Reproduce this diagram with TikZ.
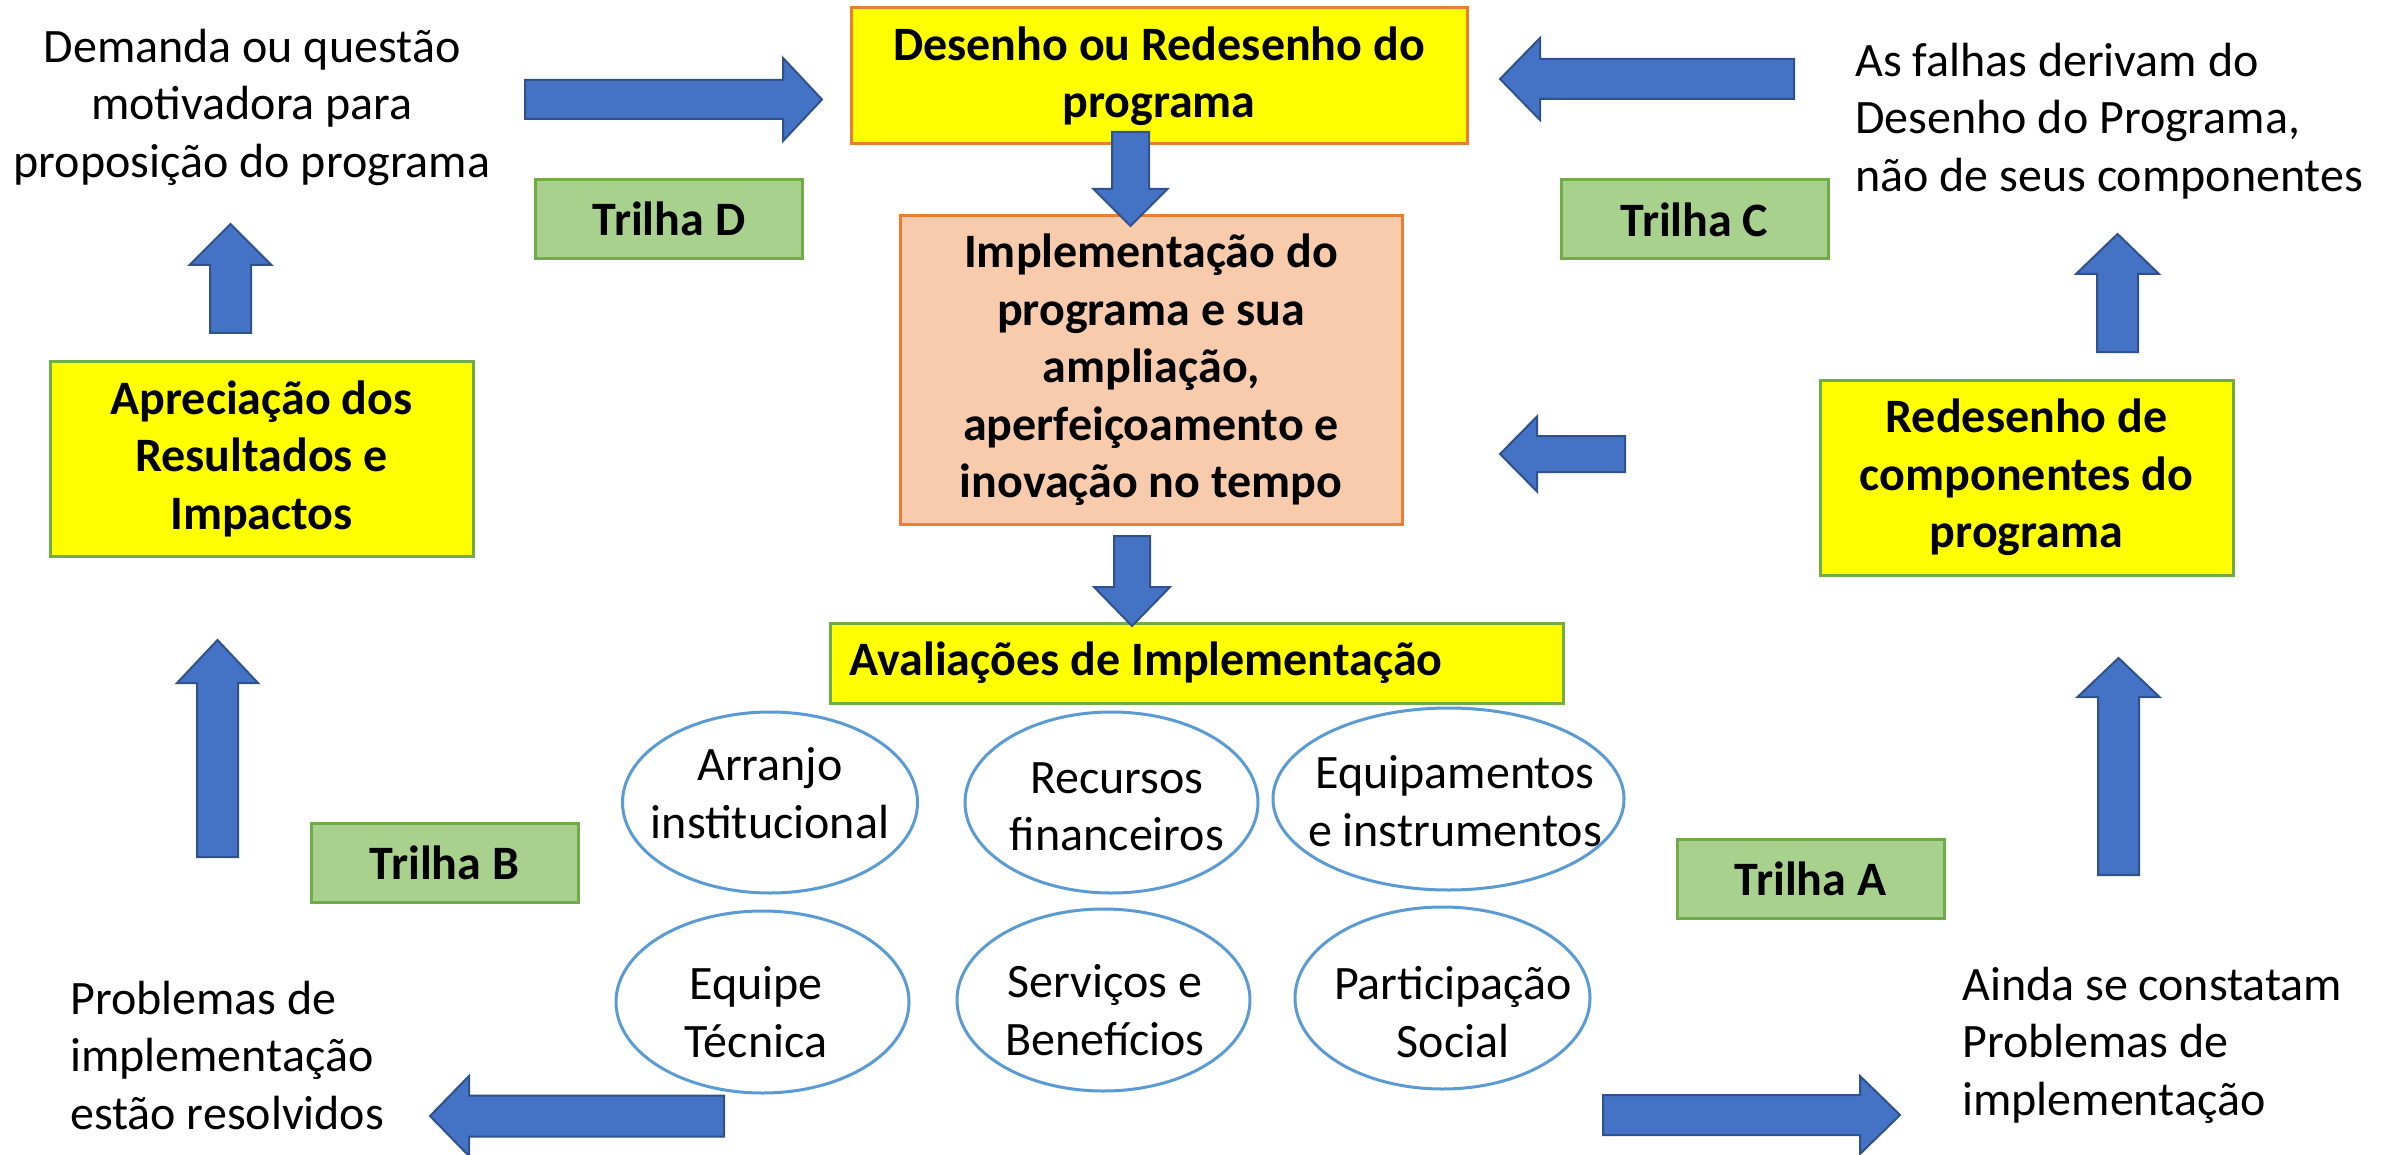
\documentclass[tikz,border=0pt]{standalone}
\usepackage{fontspec}
\setmainfont{Carlito}
\usetikzlibrary{shapes.geometric}
\definecolor{ylw}{HTML}{FFFF00}
\definecolor{orng}{HTML}{ED7D31}
\definecolor{grn}{HTML}{70AD47}
\definecolor{trfill}{HTML}{A9D18E}
\definecolor{pch}{HTML}{F8CBAD}
\definecolor{ellb}{HTML}{5B9BD5}
\definecolor{arrf}{HTML}{4472C4}
\definecolor{arrb}{HTML}{2F528F}
% tail x, tail y, angle, length, body half width, head half width, head length
\newcommand{\blockarr}[7]{%
  \draw[barr, shift={(#1,#2)}, rotate=#3] (0,-#5) -- (#4-#7,-#5) -- (#4-#7,-#6) -- (#4,0)
    -- (#4-#7,#6) -- (#4-#7,#5) -- (0,#5) -- cycle;}
\begin{document}
\begin{tikzpicture}[x=1pt,y=-1pt,
  every node/.style={font=\fontsize{48}{57.5}\selectfont, inner sep=0pt},
  ybox/.style={draw=grn, fill=ylw, line width=3pt, align=center,
    font=\fontsize{48}{57.5}\selectfont\bfseries},
  obox/.style={ybox, draw=orng},
  trilha/.style={draw=grn, fill=trfill, line width=3pt, minimum width=267pt,
    minimum height=79pt, font=\fontsize{48}{57.5}\selectfont\bfseries},
  ell/.style={ellipse, draw=ellb, line width=3pt, fill=white},
  txt/.style={align=center},
  barr/.style={fill=arrf, draw=arrb, line width=2pt, line join=miter}]
\useasboundingbox[fill=white] (0,0) rectangle (2389,1155);

% boxes
\node[obox, minimum width=616pt, minimum height=136pt] (desenho) at (1159,76)
  {Desenho ou Redesenho do\\programa};
\node[obox, fill=pch, minimum width=502pt, minimum height=308pt] (impl) at (1151,370)
  {Implementação do\\programa e sua\\ampliação,\\aperfeiçoamento e\\inovação no tempo};
\node[ybox, minimum width=423pt, minimum height=195pt] (apre) at (261.5,458.5)
  {Apreciação dos\\Resultados e\\Impactos};
\node[ybox, minimum width=413pt, minimum height=195pt] (redes) at (2026.5,477.5)
  {Redesenho de\\componentes do\\programa};
\node[ybox, minimum width=733pt, minimum height=80pt] (aval) at (1196.5,663) {};
\node[font=\fontsize{48}{57.5}\selectfont\bfseries, anchor=west] (avaltxt)
  at ([xshift=21pt]aval.west) {Avaliações de Implementação};

% trilhas
\node[trilha] (trD) at (669,219) {Trilha D};
\node[trilha] (trC) at (1694.5,219.5) {Trilha C};
\node[trilha] (trB) at (444.5,862.5) {Trilha B};
\node[trilha] (trA) at (1810.5,878.5) {Trilha A};

% ellipses
\node[ell, minimum width=295pt, minimum height=181pt] (e1) at (770,802.5) {};
\node[ell, minimum width=293pt, minimum height=181pt] (e2) at (1111.5,802.5) {};
\node[ell, minimum width=351pt, minimum height=182pt] (e3) at (1448.5,799) {};
\node[ell, minimum width=293pt, minimum height=182pt] (e4) at (762.5,1002) {};
\node[ell, minimum width=293pt, minimum height=182pt] (e5) at (1103.5,1000) {};
\node[ell, minimum width=295pt, minimum height=182pt] (e6) at (1442.5,998) {};
\node[txt] (t1) at (770,793) {Arranjo\\institucional};
\node[txt] (t2) at (1117,807) {Recursos\\financeiros};
\node[txt] (t3) at (1455,801) {Equipamentos\\e instrumentos};
\node[txt] (t4) at (756,1012) {Equipe\\Técnica};
\node[txt] (t5) at (1105,1010) {Serviços e\\Benefícios};
\node[txt] (t6) at (1453,1012) {Participação\\Social};

% free texts
\node[txt] (demanda) at (252,107) {Demanda ou questão\\motivadora para\\proposição do programa};
\node[align=left, anchor=west] (falhas) at (1855,121)
  {As falhas derivam do\\Desenho do Programa,\\não de seus componentes};
\node[align=left, anchor=west] (resolv) at (70,1055)
  {Problemas de\\implementação\\estão resolvidos};
\node[align=left, anchor=west] (ainda) at (1962,1045)
  {Ainda se constatam\\Problemas de\\implementação};

% block arrows
\blockarr{525}{99.5}{0}{297}{19.5}{41.5}{39}
\blockarr{1794}{79}{180}{294}{20}{41}{40}
\blockarr{1130.5}{132}{-90}{94}{18.5}{37}{37}
\blockarr{1132}{536}{-90}{90}{18}{38}{39}
\blockarr{230.5}{333}{90}{109}{20.5}{41}{41}
\blockarr{217.5}{857}{90}{217}{20.5}{40.5}{43}
\blockarr{2117.5}{352}{90}{118}{20.5}{41.5}{40}
\blockarr{2118.5}{875}{90}{217}{20.5}{41}{39}
\blockarr{1625}{454}{180}{125}{18}{37.5}{37}
\blockarr{724}{1116}{180}{294}{20.5}{40}{39}
\blockarr{1603}{1115}{0}{297}{20}{39}{40}
\end{tikzpicture}
\end{document}
